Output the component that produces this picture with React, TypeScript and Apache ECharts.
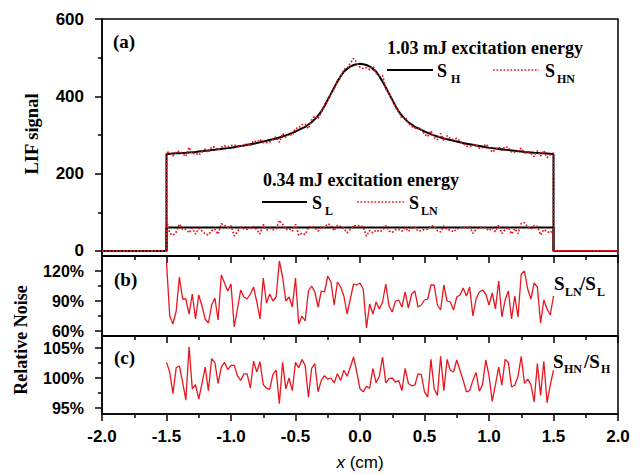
import { useEffect, useRef } from "react";
import * as echarts from "echarts";

// sampling grid of the profiles (cm)
const X_START = -1.5;
const X_STEP = 0.025;

// S_H : 1.03 mJ noiseless profile (LIF signal)
const S_H = [
  250, 251.5, 252, 252.5, 253, 253.5, 254, 255, 255.5, 256,
  257, 258, 259, 260, 261, 262, 263, 264, 265, 266,
  267, 268.5, 270, 271.5, 273, 274.5, 276, 277.5, 279, 281,
  283, 285, 287, 289, 291, 293.5, 296, 299, 302, 305.5,
  309, 313, 317, 321, 327, 333, 341, 350, 361, 375,
  391, 407, 423, 438, 452, 464, 471, 477, 481, 483,
  484,
  483, 481, 477, 471, 464, 452, 438, 423, 407, 391,
  375, 361, 350, 341, 333, 327, 321, 317, 313, 309,
  305.5, 302, 299, 296, 293.5, 291, 289, 287, 285, 283,
  281, 279, 277.5, 276, 274.5, 273, 271.5, 270, 268.5, 267,
  266, 265, 264, 263, 262, 261, 260, 259, 258, 257,
  256, 255.5, 255, 254, 253.5, 253, 252.5, 252, 251.5, 250.5,
];

// S_L : 0.34 mJ noiseless level
const S_L_LEVEL = 61;

// (b) S_LN / S_L in %
const RATIO_B = [
  129, 75, 67, 80, 114, 92, 92, 77, 97, 72,
  96, 85, 72, 68, 86, 93, 71, 116, 108, 100,
  107, 64, 82, 101, 94, 92, 97, 104, 89, 72,
  113, 88, 97, 90, 94, 130, 114, 90, 94, 84,
  113, 67, 75, 70, 100, 105, 99, 84, 100, 99,
  115, 109, 86, 109, 104, 95, 77, 92, 107, 106,
  108, 102, 63, 87, 77, 89, 82, 89, 107, 85,
  79, 90, 91, 84, 99, 83, 97, 100, 84, 86,
  91,
  92, 106, 106, 86, 81, 106, 90, 89, 81, 94,
  96, 103, 95, 104, 75, 92, 99, 101, 97, 86,
  98, 82, 110, 74, 91, 100, 72, 95, 74, 117,
  120, 102, 92, 108, 104, 68, 91, 82, 76, 95,
];

// (c) S_HN / S_H in %
const RATIO_C = [
  102.6, 101.0, 97.4, 101.7, 102.0, 99.3, 96.3, 105.2, 98.2, 98.9,
  96.5, 99.1, 101.8, 97.9, 103.2, 102.6, 99.1, 101.8, 102.6, 101.4,
  102.1, 102.1, 100.4, 99.6, 100.7, 100.7, 98.3, 102.8, 101.0, 102.7,
  98.9, 98.3, 98.1, 100.6, 101.3, 95.7, 102.6, 98.2, 100.0, 97.9,
  102.6, 101.7, 103.1, 102.1, 96.8, 101.6, 102.4, 97.7, 99.6, 100.4,
  99.8, 100.0, 99.2, 100.7, 99.6, 101.3, 100.3, 101.8, 103.5, 101.0,
  98.2, 97.7, 98.6, 98.3, 101.6, 99.2, 100.3, 103.5, 99.2, 99.9,
  100.0, 99.3, 99.6, 97.9, 101.6, 99.1, 98.7, 98.8, 100.7, 100.6,
  97.7,
  96.8, 103.1, 98.2, 97.1, 103.6, 97.9, 103.1, 101.3, 101.0, 103.0,
  101.3, 99.6, 97.7, 97.9, 99.6, 100.9, 97.8, 98.9, 103.0, 100.4,
  96.1, 98.9, 101.8, 98.8, 103.1, 102.6, 98.5, 98.8, 100.3, 103.6,
  99.1, 99.8, 98.9, 96.0, 102.4, 97.1, 102.8, 95.9, 98.8, 101.3,
];

const Y_A_LABELS = [0, 200, 400, 600];
const Y_A_MINOR = [100, 300, 500];
const Y_B_LABELS = [60, 90, 120];
const Y_B_MINOR = [75, 105];
const Y_C_LABELS = [95, 100, 105];
const Y_C_MINOR = [97.5, 102.5];

const RED = "#e8161e";
const SANS = "'Liberation Sans', Arial, sans-serif";
const SERIF = "'Liberation Serif', 'Times New Roman', serif";

const xs = S_H.map((_, i) => +(X_START + i * X_STEP).toFixed(3));
const withEdges = (vals: number[]) => [
  [-2, 0],
  [xs[0], 0],
  ...vals.map((v, i) => [xs[i], v]),
  [xs[xs.length - 1], 0],
  [2, 0],
];

export default function App() {
  const ref = useRef<HTMLDivElement>(null);
  useEffect(() => {
    document.body.style.margin = "0";
    const chart = echarts.init(ref.current!, null, { renderer: "svg" });

    const grids = [
      { top: 19, height: 237 },
      { top: 256, height: 80 },
      { top: 336, height: 78 },
    ].map((g) => ({
      ...g,
      left: 102,
      right: 25,
      show: true,
      borderColor: "#000",
      borderWidth: 1.5,
      backgroundColor: "transparent",
    }));

    const xAxes = [0, 1, 2].map((i) => ({
      type: "value",
      gridIndex: i,
      min: -2,
      max: 2,
      interval: 0.5,
      axisLine: { show: true, onZero: false, lineStyle: { color: "#000", width: 1.5 } },
      axisTick: { show: true, length: 7, lineStyle: { color: "#000", width: 1.5 } },
      minorTick: { show: true, splitNumber: 2, length: 4, lineStyle: { color: "#000", width: 1.5 } },
      splitLine: { show: false },
      minorSplitLine: { show: false },
      axisLabel: {
        show: i === 2,
        margin: 14,
        color: "#000",
        fontFamily: SANS,
        fontWeight: "bold",
        fontSize: 17,
        formatter: (v: number) => v.toFixed(1),
      },
    }));

    const yPair = (
      gi: number,
      min: number,
      max: number,
      labels: number[],
      minor: number[],
      size: number,
      fmt: (v: number) => string
    ) => [
      {
        type: "value",
        gridIndex: gi,
        position: "left",
        min,
        max,
        axisLine: { show: true, onZero: false, lineStyle: { color: "#000", width: 1.5 } },
        axisTick: { show: true, length: 7, customValues: labels, lineStyle: { color: "#000", width: 1.5 } },
        axisLabel: {
          show: true,
          customValues: labels,
          margin: 18,
          color: "#000",
          fontFamily: SANS,
          fontWeight: "bold",
          fontSize: size,
          formatter: fmt,
        },
        splitLine: { show: false },
      },
      {
        type: "value",
        gridIndex: gi,
        position: "left",
        min,
        max,
        axisLine: { show: true, onZero: false, lineStyle: { color: "rgba(0,0,0,0)", width: 0 } },
        axisTick: { show: true, length: 4, customValues: minor, lineStyle: { color: "#000", width: 1.5 } },
        axisLabel: { show: false },
        splitLine: { show: false },
      },
    ];

    const yAxes = [
      ...yPair(0, -13, 600, Y_A_LABELS, Y_A_MINOR, 17, (v) => String(v)),
      ...yPair(1, 55, 135, Y_B_LABELS, Y_B_MINOR, 16, (v) => v + "%"),
      ...yPair(2, 94, 107, Y_C_LABELS, Y_C_MINOR, 16, (v) => v + "%"),
    ];

    const sHN = S_H.map((v, i) => (v * RATIO_C[i]) / 100);
    const sLN = RATIO_B.map((r) => (S_L_LEVEL * r) / 100);
    const sL = [
      [-2, 0],
      [xs[0], 0],
      [xs[0], S_L_LEVEL],
      [xs[xs.length - 1], S_L_LEVEL],
      [xs[xs.length - 1], 0],
      [2, 0],
    ];

    const black = { color: "#000", width: 2 };
    const dotted = { color: RED, width: 1.7, type: [1.7, 1.8] };

    const series: any[] = [
      { name: "S_H", type: "line", xAxisIndex: 0, yAxisIndex: 0, data: withEdges(S_H), lineStyle: black },
      { name: "S_L", type: "line", xAxisIndex: 0, yAxisIndex: 0, data: sL, lineStyle: black },
      { name: "S_HN", type: "line", xAxisIndex: 0, yAxisIndex: 0, data: withEdges(sHN), lineStyle: dotted },
      { name: "S_LN", type: "line", xAxisIndex: 0, yAxisIndex: 0, data: withEdges(sLN), lineStyle: dotted },
      {
        name: "S_LN/S_L",
        type: "line",
        xAxisIndex: 1,
        yAxisIndex: 2,
        data: RATIO_B.map((v, i) => [xs[i], v]),
        lineStyle: { color: RED, width: 1.3 },
      },
      {
        name: "S_HN/S_H",
        type: "line",
        xAxisIndex: 2,
        yAxisIndex: 4,
        data: RATIO_C.map((v, i) => [xs[i], v]),
        lineStyle: { color: RED, width: 1.3 },
      },
    ].map((s) => ({ ...s, symbol: "none", showSymbol: false, silent: true }));

    const txt = (text: string, x: number, y: number, size: number, opts: any = {}) => ({
      type: "text",
      x,
      y,
      silent: true,
      ...(opts.el || {}),
      style: {
        text,
        fill: "#000",
        fontSize: size,
        fontFamily: opts.family || SERIF,
        fontWeight: opts.weight || "bold",
        fontStyle: opts.style || "normal",
        align: opts.align || "left",
        verticalAlign: "middle",
        textAlign: opts.align || "left",
        textVerticalAlign: "middle",
        ...(opts.st || {}),
      },
    });
    const seg = (x1: number, x2: number, y: number, style: any) => ({
      type: "line",
      silent: true,
      shape: { x1, y1: y, x2, y2: y },
      style,
    });
    const blackSeg = { stroke: "#000", lineWidth: 2 };
    const redSeg = { stroke: RED, lineWidth: 1.7, lineDash: [1.7, 1.8] };

    const graphic: any[] = [
      txt("(a)", 113, 41, 19),
      txt("(b)", 114, 279, 19),
      txt("(c)", 114, 357, 19),
      // 1.03 mJ block
      txt("1.03 mJ excitation energy", 387, 48, 18),
      seg(387, 433, 70, blackSeg),
      txt("S", 437, 71, 18),
      txt("H", 451, 79, 12),
      seg(493, 539, 70, redSeg),
      txt("S", 545, 71, 18),
      txt("HN", 557, 79, 12),
      // 0.34 mJ block
      txt("0.34 mJ excitation energy", 263, 180, 18),
      seg(262, 307, 202, blackSeg),
      txt("S", 312, 203, 18),
      txt("L", 325, 211, 12),
      seg(357, 404, 202, redSeg),
      txt("S", 409, 203, 18),
      txt("LN", 421, 211, 12),
      // ratio labels
      txt("S", 554, 283, 19),
      txt("LN", 565, 292, 12),
      txt("/S", 580, 283, 19),
      txt("L", 597, 292, 12),
      txt("S", 553, 361, 19),
      txt("HN", 564, 369, 12),
      txt("/S", 584, 361, 19),
      txt("H", 601, 369, 12),
      // axis names
      txt("LIF signal", 32, 134, 18.5, { align: "center", el: { rotation: Math.PI / 2 } }),
      txt("Relative Noise", 21, 340, 18, { align: "center", el: { rotation: Math.PI / 2 } }),
      {
        type: "text",
        x: 360,
        y: 462,
        silent: true,
        style: {
          text: "{i|x} {n|(cm)}",
          align: "center",
          verticalAlign: "middle",
          textAlign: "center",
          textVerticalAlign: "middle",
          fill: "#000",
          fontSize: 17,
          fontFamily: SANS,
          rich: {
            i: { fontStyle: "italic", fontSize: 17, fontFamily: SANS, fill: "#000", color: "#000" },
            n: { fontSize: 17, fontFamily: SANS, fill: "#000", color: "#000" },
          },
        },
      },
    ];

    chart.setOption({
      animation: false,
      backgroundColor: "#fff",
      grid: grids,
      xAxis: xAxes,
      yAxis: yAxes,
      series,
      graphic,
    } as any);

    return () => chart.dispose();
  }, []);

  return <div ref={ref} style={{ width: 643, height: 474 }} />;
}
